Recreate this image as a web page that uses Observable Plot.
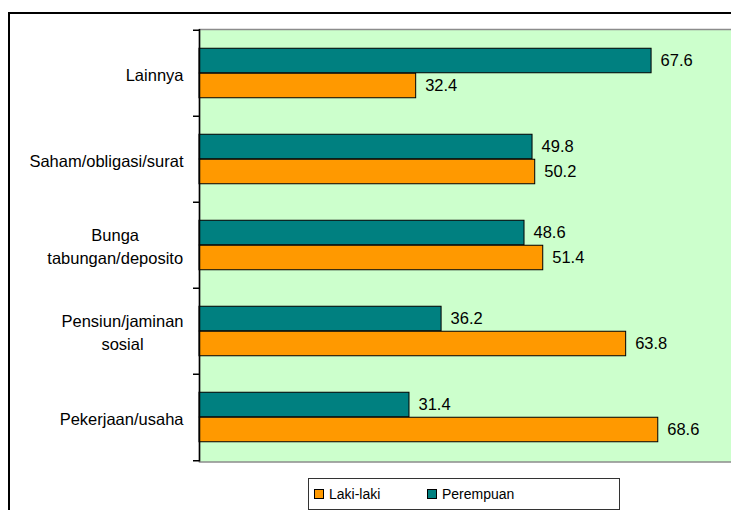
<!DOCTYPE html>
<html><head><meta charset="utf-8">
<script src="https://cdn.jsdelivr.net/npm/d3@7"></script>
<script src="https://cdn.jsdelivr.net/npm/@observablehq/plot@0.6"></script>
<style>
body{margin:0;background:#fff;overflow:hidden;font-family:"Liberation Sans",Arial,sans-serif;}
#wrap{position:relative;width:731px;height:510px;overflow:hidden;}
#border{position:absolute;left:8px;top:12px;width:800px;height:600px;border:2px solid #000;box-sizing:border-box;}
#chart{position:absolute;left:0;top:0;}
#legend{position:absolute;left:308px;top:478px;width:312px;height:32px;border:1.5px solid #333;box-sizing:border-box;background:#fff;font-size:14px;color:#000;}
.item{position:absolute;top:0;height:100%;display:flex;align-items:center;}
.sw{width:8px;height:8px;border:1px solid #000;margin-right:5px;}
</style></head>
<body>
<div id="wrap"><div id="border"></div><div id="chart"></div><div id="legend"></div></div>
<script>
const categories = ["Lainnya","Saham/obligasi/surat","Bunga\ntabungan/deposito","Pensiun/jaminan\nsosial","Pekerjaan/usaha"];
const perempuan = [67.6, 49.8, 48.6, 36.2, 31.4];
const lakiLaki = [32.4, 50.2, 51.4, 63.8, 68.6];
const seriesNames = ["Laki-laki", "Perempuan"];
const seriesColors = ["#FF9900", "#008080"];
const xDomain = [0, 80];

const data = categories.flatMap((c, i) => [
  {category: c, series: "Perempuan", value: perempuan[i]},
  {category: c, series: "Laki-laki", value: lakiLaki[i]}
]);
const colorOf = s => seriesColors[seriesNames.indexOf(s)];

const height = 470, marginTop = 29, marginBottom = 8.5;
const bw = (height - marginTop - marginBottom) / categories.length;
const barH = 25;
const outer = (bw - 2 * barH) / 2;
const fs = 16.5;

const pData = data.filter(d => d.series === "Perempuan");
const lData = data.filter(d => d.series === "Laki-laki");

const chart = Plot.plot({
  width: 731, height, marginTop, marginBottom, marginLeft: 199, marginRight: -3,
  style: {fontFamily: '"Liberation Sans", Arial, sans-serif', background: "transparent", color: "#000"},
  x: {domain: xDomain, axis: null},
  y: {domain: categories, padding: 0, label: null},
  marks: [
    Plot.frame({fill: "#CCFFCC", stroke: "#8c8c8c", strokeWidth: 1.5}),
    Plot.barX(pData, {x: "value", y: "category", fill: colorOf("Perempuan"), stroke: "#000", strokeWidth: 1,
      insetTop: outer, insetBottom: bw - outer - barH}),
    Plot.barX(lData, {x: "value", y: "category", fill: colorOf("Laki-laki"), stroke: "#000", strokeWidth: 1,
      insetTop: outer + barH, insetBottom: outer}),
    Plot.text(pData, {x: "value", y: "category", text: d => d.value.toFixed(1), dx: 9, dy: -barH / 2,
      textAnchor: "start", fontSize: fs, fill: "#000"}),
    Plot.text(lData, {x: "value", y: "category", text: d => d.value.toFixed(1), dx: 9, dy: barH / 2,
      textAnchor: "start", fontSize: fs, fill: "#000"}),
    Plot.ruleX([0], {stroke: "#000", strokeWidth: 1.5}),
    Plot.axisY(categories, {tickSize: 6, tickFormat: () => "", dy: -bw / 2, stroke: "#000", strokeWidth: 1.5}),
    Plot.axisY(categories.slice(-1), {tickSize: 6, tickFormat: () => "", dy: bw / 2, stroke: "#000", strokeWidth: 1.5}),
    Plot.axisY({tickSize: 0, tickPadding: 16, fontSize: fs, lineHeight: 1.4, fill: "#000", label: null})
  ]
});
document.getElementById("chart").appendChild(chart);

// center multi-line category labels like the original
chart.querySelectorAll("text").forEach(t => {
  const ts = t.querySelectorAll("tspan");
  if (ts.length > 1) {
    const bb = t.getBBox();
    t.setAttribute("text-anchor", "middle");
    t.style.textAnchor = "middle";
    const tr = t.getAttribute("transform") || "";
    t.setAttribute("transform", tr + ` translate(${-bb.width / 2},0)`);
  }
});

// legend
const legend = document.getElementById("legend");
const offsets = [5, 118];
seriesNames.forEach((s, i) => {
  const it = document.createElement("div");
  it.className = "item";
  it.style.left = offsets[i] + "px";
  const sw = document.createElement("div");
  sw.className = "sw";
  sw.style.background = seriesColors[i];
  const lb = document.createElement("span");
  lb.textContent = s;
  it.appendChild(sw); it.appendChild(lb);
  legend.appendChild(it);
});
</script>
</body></html>
